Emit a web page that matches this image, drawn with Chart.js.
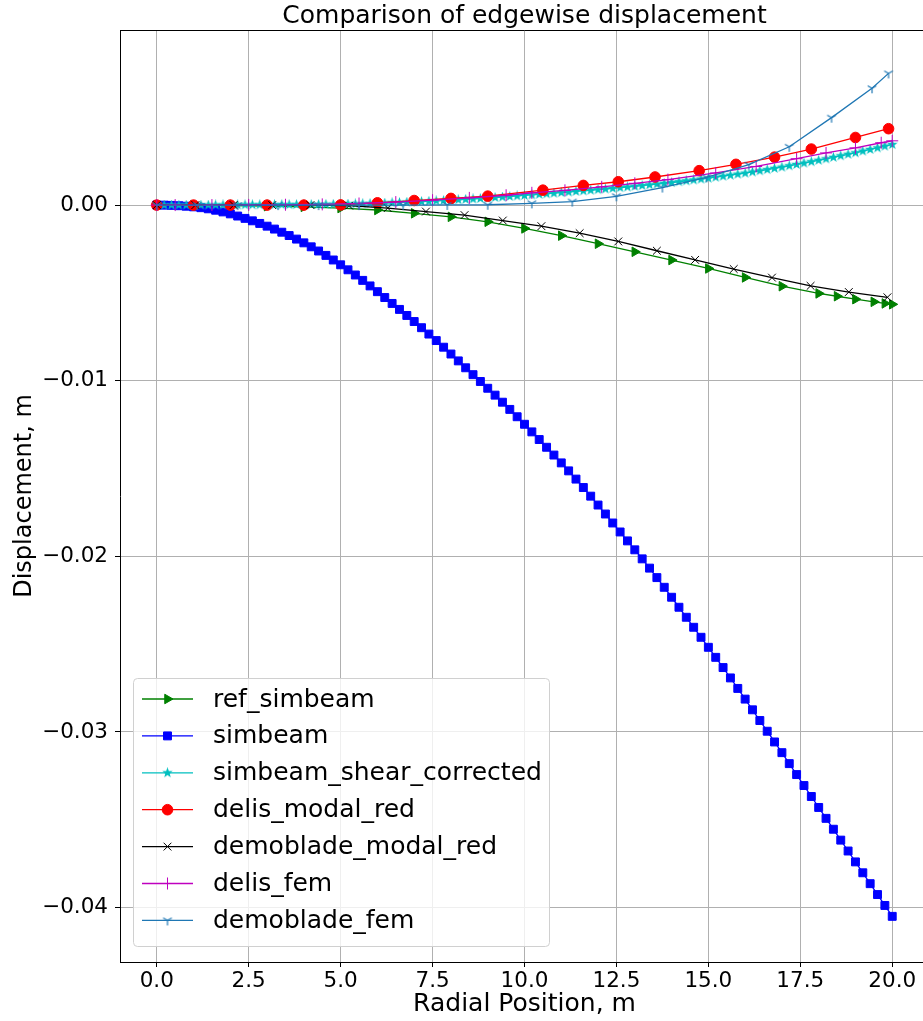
<!DOCTYPE html>
<html>
<head>
<meta charset="utf-8">
<title>Comparison of edgewise displacement</title>
<script src="https://cdn.jsdelivr.net/npm/chart.js@4.4.1/dist/chart.umd.min.js"></script>
<style>
  html, body { margin: 0; padding: 0; overflow: hidden; background: #fff; }
  #wrap { width: 940px; height: 1021px; position: relative; }
</style>
</head>
<body>
<div id="wrap"><canvas id="chart"></canvas></div>
<script>
// ---- data ----
const chartTitle = 'Comparison of edgewise displacement';
const xTicks = [0, 2.5, 5, 7.5, 10, 12.5, 15, 17.5, 20];
const yTicks = [0, -0.01, -0.02, -0.03, -0.04];

// fine mesh used by simbeam and simbeam_shear_corrected
const fineX = [
  0, 0.2, 0.4, 0.6, 0.8, 1, 1.2, 1.4, 1.6, 1.8, 2, 2.2, 2.4, 2.6, 2.8, 3, 3.2, 3.4, 3.6, 3.8,
  4, 4.2, 4.4, 4.6, 4.8, 5, 5.2, 5.4, 5.6, 5.8, 6, 6.2, 6.4, 6.6, 6.8, 7, 7.2, 7.4, 7.6, 7.8,
  8, 8.2, 8.4, 8.6, 8.8, 9, 9.2, 9.4, 9.6, 9.8, 10, 10.2, 10.4, 10.6, 10.8, 11, 11.2, 11.4, 11.6, 11.8,
  12, 12.2, 12.4, 12.6, 12.8, 13, 13.2, 13.4, 13.6, 13.8, 14, 14.2, 14.4, 14.6, 14.8, 15, 15.2, 15.4, 15.6, 15.8,
  16, 16.2, 16.4, 16.6, 16.8, 17, 17.2, 17.4, 17.6, 17.8, 18, 18.2, 18.4, 18.6, 18.8, 19, 19.2, 19.4, 19.6, 19.8, 20
];
const simbeamY = [
  0, -0.000004, -0.000016, -0.000036, -0.000064,
  -0.0001, -0.000148, -0.000212, -0.000292, -0.000388,
  -0.0005, -0.000624, -0.000756, -0.000896, -0.001044,
  -0.0012, -0.001366, -0.001544, -0.001734, -0.001936,
  -0.00215, -0.002376, -0.002614, -0.002864, -0.003126,
  -0.0034, -0.003685, -0.003981, -0.004287, -0.004603,
  -0.00493, -0.005264, -0.0056, -0.00594, -0.006284,
  -0.00663, -0.006982, -0.007344, -0.007714, -0.008092,
  -0.00848, -0.008872, -0.009264, -0.009656, -0.010044,
  -0.01043, -0.010822, -0.011224, -0.011634, -0.012052,
  -0.01248, -0.012914, -0.01335, -0.01379, -0.014234,
  -0.01468, -0.015134, -0.015602, -0.016082, -0.016574,
  -0.01708, -0.017591, -0.018102, -0.018613, -0.019121,
  -0.01963, -0.020144, -0.020672, -0.021212, -0.021764,
  -0.02233, -0.0229, -0.02347, -0.02404, -0.02461,
  -0.02518, -0.025752, -0.026334, -0.026924, -0.027522,
  -0.02813, -0.02874, -0.02935, -0.02996, -0.03057,
  -0.03118, -0.031804, -0.032428, -0.033052, -0.033676,
  -0.0343, -0.03492, -0.03554, -0.03616, -0.03678,
  -0.0374, -0.03802, -0.03864, -0.03926, -0.03988,
  -0.0405
];
const shearY = [
  0, 0, 0, 0, 0,
  0, 0.000002, 0.000004, 0.000006, 0.000008,
  0.00001, 0.000012, 0.000014, 0.000016, 0.000018,
  0.00002, 0.000022, 0.000024, 0.000026, 0.000028,
  0.00003, 0.000033, 0.000037, 0.000041, 0.000045,
  0.00005, 0.000059, 0.000069, 0.000079, 0.00009,
  0.0001, 0.000115, 0.00013, 0.000146, 0.000163,
  0.00018, 0.000199, 0.000218, 0.000238, 0.000259,
  0.00028, 0.000303, 0.000326, 0.00035, 0.000375,
  0.0004, 0.00043, 0.00046, 0.00049, 0.00052,
  0.00055, 0.000581, 0.000613, 0.000645, 0.000677,
  0.00071, 0.000744, 0.000778, 0.000812, 0.000846,
  0.00088, 0.000917, 0.000955, 0.000993, 0.001031,
  0.00107, 0.001111, 0.001152, 0.001194, 0.001237,
  0.00128, 0.00133, 0.00138, 0.00143, 0.00148,
  0.00153, 0.001587, 0.001644, 0.001702, 0.001761,
  0.00182, 0.001887, 0.001954, 0.002022, 0.002091,
  0.00216, 0.002237, 0.002314, 0.002392, 0.002471,
  0.00255, 0.002635, 0.00272, 0.002806, 0.002893,
  0.00298, 0.003073, 0.003167, 0.003261, 0.003355,
  0.00345
];

const refX = [0, 1, 2, 3, 4, 5, 6, 7, 8, 9, 10, 11, 12, 13, 14, 15, 16, 17, 18, 18.5, 19, 19.5, 19.8, 20];
const refY = [0, -0.00001, -0.00003, -0.00006, -0.0001, -0.00017, -0.00028, -0.00047, -0.00067, -0.00095,
  -0.00133, -0.00174, -0.0022, -0.00266, -0.00313, -0.00361, -0.00412, -0.00462, -0.00503, -0.00519,
  -0.00536, -0.00551, -0.0056, -0.00565];

const delisModalX = [0, 1, 2, 3, 4, 5, 6, 7, 8, 9, 10.5, 11.6, 12.55, 13.55, 14.75, 15.75, 16.8, 17.8, 19.0, 19.9];
const delisModalY = [0, 0, 0, 0, 0, 0.00001, 0.00013, 0.00026, 0.00038, 0.00051,
  0.00085, 0.00112, 0.00133, 0.0016, 0.00196, 0.00232, 0.00273, 0.00319, 0.00385, 0.00435];

const demoModalX = [0, 1.05, 2.09, 3.14, 4.18, 5.23, 6.28, 7.32, 8.37, 9.41, 10.46, 11.5, 12.55, 13.6, 14.64, 15.69, 16.73, 17.78, 18.82, 19.87];
const demoModalY = [0, 0, 0, 0, 0, -0.00003, -0.00017, -0.00037, -0.00057, -0.00088,
  -0.0012, -0.0016, -0.00207, -0.0026, -0.00312, -0.00364, -0.00413, -0.0046, -0.00495, -0.00525];

const delisFemX = [0, 0.5, 1.5, 2.5, 3.5, 4.5, 5.5, 6.5, 7.5, 8.5, 9.5, 10.2, 11.1, 12.1, 13.0, 13.9, 15.2, 16.3, 17.4, 18.2, 19.0, 19.7, 20.0];
const delisFemY = [0, 0, 0, 0.00001, 0.00002, 0.00004, 0.00009, 0.00017, 0.00028, 0.00041, 0.00056, 0.0007,
  0.00084, 0.00104, 0.00124, 0.00145, 0.00183, 0.0022, 0.00264, 0.00297, 0.00326, 0.00355, 0.00366];

const demoFemX = [0, 1.1, 2.2, 3.3, 4.4, 5.5, 6.7, 7.9, 9.0, 10.2, 11.3, 12.5, 13.75, 14.95, 16.1, 17.2, 18.35, 19.45, 19.9];
const demoFemY = [0, 0, 0, 0, 0, 0, 0, 0.00001, 0.00002, 0.0001, 0.0002, 0.0005, 0.001, 0.00158, 0.0023, 0.00332, 0.00498, 0.00665, 0.0075];

// ---- marker images for the matplotlib shapes chart.js doesn't have ----
function starMarker(color, size) {
    const c = document.createElement('canvas');
    c.width = c.height = size;
    const g = c.getContext('2d');
    const r = size / 2, ri = r * 0.42;
    g.beginPath();
    for (let i = 0; i < 10; i++) {
        const a = -Math.PI / 2 + i * Math.PI / 5;
        const rr = i % 2 ? ri : r;
        g.lineTo(r + rr * Math.cos(a), r + rr * Math.sin(a));
    }
    g.closePath();
    g.fillStyle = color;
    g.fill();
    return c;
}

function triDownMarker(color, size) {
    const c = document.createElement('canvas');
    c.width = c.height = size;
    const g = c.getContext('2d');
    const m = size / 2, r = size / 2 - 1;
    g.strokeStyle = color;
    g.lineWidth = 1.2;
    g.beginPath();
    [90, 210, 330].forEach(d => {
        const a = d * Math.PI / 180;
        g.moveTo(m, m);
        g.lineTo(m + r * Math.cos(a), m + r * Math.sin(a));
    });
    g.stroke();
    return c;
}

const toPoints = (xs, ys) => xs.map((x, i) => ({ x: x, y: ys[i] }));

function series(label, xs, ys, color, style, radius, extra) {
    return Object.assign({
        label: label,
        data: toPoints(xs, ys),
        borderColor: color,
        backgroundColor: color,
        borderWidth: 1.3,
        pointStyle: style,
        pointRadius: radius,
        pointHoverRadius: radius,
        pointBackgroundColor: color,
        pointBorderColor: color,
        pointBorderWidth: 1,
        pointRotation: 0,
        tension: 0,
        fill: false
    }, extra || {});
}

const datasets = [
    series('ref_simbeam', refX, refY, '#008000', 'triangle', 5.5, { pointRotation: 90, order: 6 }),
    series('simbeam', fineX, simbeamY, '#0000ff', 'rect', 5.6, { order: 5 }),
    series('simbeam_shear_corrected', fineX, shearY, '#00bfbf', starMarker('#00bfbf', 11), 5, { order: 4 }),
    series('delis_modal_red', delisModalX, delisModalY, '#ff0000', 'circle', 5.3, { order: 3 }),
    series('demoblade_modal_red', demoModalX, demoModalY, '#000000', 'crossRot', 5.5, { order: 2 }),
    series('delis_fem', delisFemX, delisFemY, '#bf00bf', 'cross', 6, { order: 1 }),
    series('demoblade_fem', demoFemX, demoFemY, '#1f77b4', triDownMarker('#1f77b4', 12), 6, { order: 0 })
];

const fam = '"DejaVu Sans", sans-serif';

// title centred on the axes, top spine, and the legend inside the axes (lower left)
const axesDecor = {
    id: 'axesDecor',
    afterDraw(chart) {
        const { ctx, chartArea } = chart;
        ctx.save();
        ctx.fillStyle = '#000';
        ctx.font = '25px ' + fam;
        ctx.textAlign = 'center';
        ctx.textBaseline = 'middle';
        ctx.fillText(chartTitle, (chartArea.left + chartArea.right) / 2, 16);

        ctx.strokeStyle = '#000';
        ctx.lineWidth = 1;
        ctx.beginPath();
        ctx.moveTo(chartArea.left, chartArea.top + 0.5);
        ctx.lineTo(chartArea.right, chartArea.top + 0.5);
        ctx.stroke();

        const x0 = chartArea.left + 13;
        const w = 416, h = 268;
        const y0 = chartArea.bottom - 16 - h;
        const rowH = 36.9;
        ctx.beginPath();
        ctx.roundRect(x0 + 0.5, y0 + 0.5, w, h, 4);
        ctx.fillStyle = 'rgba(255,255,255,0.8)';
        ctx.fill();
        ctx.strokeStyle = '#d0d0d0';
        ctx.stroke();

        chart.data.datasets.forEach((ds, i) => {
            const cy = y0 + 21 + i * rowH;
            ctx.strokeStyle = ds.borderColor;
            ctx.lineWidth = ds.borderWidth;
            ctx.beginPath();
            ctx.moveTo(x0 + 9, cy);
            ctx.lineTo(x0 + 60, cy);
            ctx.stroke();
            ctx.fillStyle = ds.pointBackgroundColor;
            ctx.strokeStyle = ds.pointBorderColor;
            ctx.lineWidth = ds.pointBorderWidth;
            Chart.helpers.drawPoint(ctx, {
                pointStyle: ds.pointStyle,
                rotation: ds.pointRotation,
                radius: ds.pointRadius,
                borderWidth: ds.pointBorderWidth
            }, x0 + 34.5, cy);
            ctx.fillStyle = '#000';
            ctx.font = '25px ' + fam;
            ctx.textAlign = 'left';
            ctx.textBaseline = 'middle';
            ctx.fillText(ds.label, x0 + 80, cy + 1);
        });
        ctx.restore();
    }
};

const gridOpts = { color: '#b0b0b0', lineWidth: 1, tickColor: '#000', tickLength: 5, drawTicks: true };

new Chart(document.getElementById('chart'), {
    type: 'line',
    data: { datasets: datasets },
    plugins: [axesDecor],
    options: {
        responsive: true,
        maintainAspectRatio: false,
        devicePixelRatio: 1,
        animation: false,
        layout: { padding: { left: 0, right: 11, top: 30, bottom: 0 } },
        plugins: {
            legend: { display: false },
            tooltip: { enabled: false },
            title: { display: false }
        },
        scales: {
            x: {
                type: 'linear',
                min: -1,
                max: 21,
                afterBuildTicks: s => { s.ticks = xTicks.map(v => ({ value: v })); },
                afterFit: s => { s.height = 59; },
                grid: gridOpts,
                border: { display: true, color: '#000', width: 1 },
                ticks: {
                    color: '#000',
                    font: { family: fam, size: 21.5 },
                    padding: 2,
                    maxRotation: 0,
                    autoSkip: false,
                    callback: v => v.toFixed(1)
                },
                title: {
                    display: true,
                    text: 'Radial Position, m',
                    color: '#000',
                    font: { family: fam, size: 25 },
                    padding: { top: 0, bottom: 2 }
                }
            },
            y: {
                type: 'linear',
                min: -0.0431,
                max: 0.00997,
                afterBuildTicks: s => { s.ticks = yTicks.map(v => ({ value: v })); },
                afterFit: s => { s.width = 120; },
                grid: gridOpts,
                border: { display: true, color: '#000', width: 1 },
                ticks: {
                    color: '#000',
                    font: { family: fam, size: 21.5 },
                    padding: 7,
                    autoSkip: false,
                    callback: v => (v === 0 ? '0.00' : '\u2212' + Math.abs(v).toFixed(2))
                },
                title: {
                    display: true,
                    text: 'Displacement, m',
                    color: '#000',
                    font: { family: fam, size: 24 },
                    padding: { top: 10, bottom: 0 }
                }
            }
        }
    }
});
</script>
</body>
</html>
